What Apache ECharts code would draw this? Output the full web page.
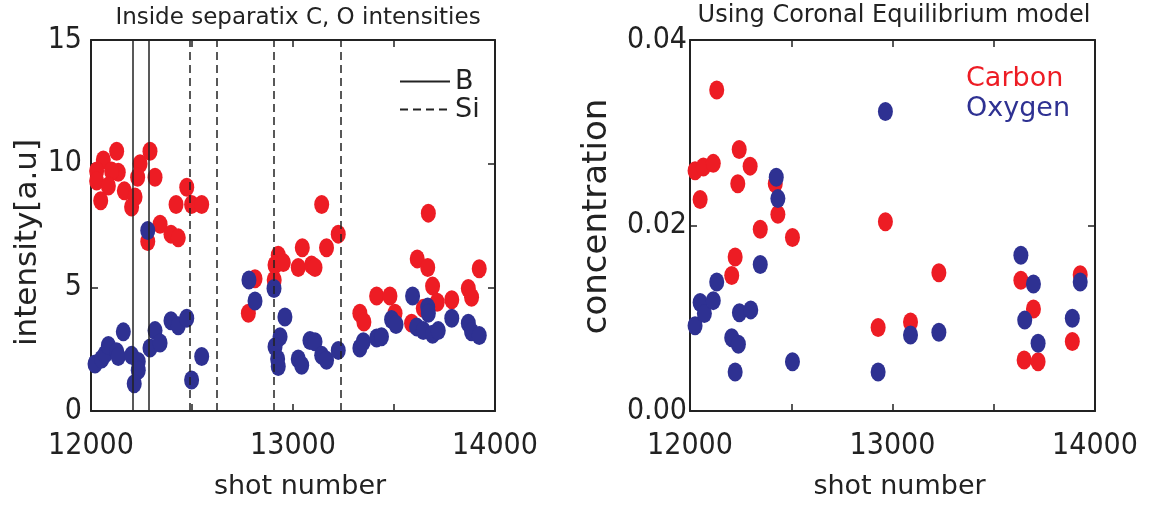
<!DOCTYPE html>
<html>
<head>
<meta charset="utf-8">
<title>C and O intensities / concentrations vs shot number</title>
<script src="https://cdn.jsdelivr.net/npm/echarts@6/dist/echarts.min.js"></script>
<style>
  html, body { margin: 0; padding: 0; background: #ffffff; }
  #chart { width: 1152px; height: 508px; }
</style>
</head>
<body>
<div id="chart"></div>
<script>
// ---- data -------------------------------------------------------------
// shot-number axis
const shotMin = 12000;
const shotMax = 14000;
const shotTickStep = 500;
const shotLabelStep = 1000;

// intensity axis (a.u.)
const intensityMin = 0;
const intensityMax = 15;
const intensityStep = 5;

// concentration axis
const concMin = 0;
const concMax = 0.04;
const concStep = 0.02;

// boronisation / siliconisation shots (vertical markers)
const boronShots = [12208, 12287];
const siliconShots = [12490, 12624, 12906, 13238];

// inside-separatrix line intensities, [shot, a.u.]
const carbonIntensity = [
  [12127, 10.5], [12061, 10.15], [12028, 9.7], [12028, 9.3], [12135, 9.65],
  [12102, 9.7], [12086, 9.1], [12048, 8.5], [12165, 8.9], [12218, 8.65],
  [12201, 8.25], [12243, 10.0], [12231, 9.45], [12292, 10.5], [12317, 9.45],
  [12474, 9.05], [12421, 8.35], [12498, 8.35], [12548, 8.35], [12342, 7.55],
  [12396, 7.15], [12432, 7.0], [12281, 6.85],
  [13142, 8.35], [13224, 7.15], [13046, 6.6], [13166, 6.6], [12927, 6.3],
  [12911, 5.9], [12952, 6.0], [13026, 5.8], [13092, 5.9], [13109, 5.8],
  [12812, 5.35], [12907, 5.3], [12779, 3.95],
  [13670, 8.0], [13331, 3.95], [13351, 3.6], [13414, 4.65], [13480, 4.65],
  [13505, 3.95], [13615, 6.15], [13667, 5.8], [13691, 5.05], [13714, 4.4],
  [13645, 4.15], [13587, 3.55], [13786, 4.5], [13868, 4.95], [13884, 4.6],
  [13922, 5.75]
];
const oxygenIntensity = [
  [12020, 1.9], [12053, 2.1], [12070, 2.3], [12086, 2.65], [12127, 2.4],
  [12135, 2.2], [12160, 3.2], [12201, 2.25], [12234, 2.0], [12234, 1.65],
  [12214, 1.1], [12292, 2.55], [12317, 3.25], [12342, 2.75], [12396, 3.65],
  [12432, 3.45], [12474, 3.75], [12498, 1.25], [12548, 2.2], [12281, 7.3],
  [12782, 5.3], [12906, 4.95], [12812, 4.45], [12960, 3.8], [12936, 3.0],
  [12911, 2.6], [12924, 2.1], [12927, 1.8], [13026, 2.1], [13043, 1.85],
  [13084, 2.85], [13109, 2.8], [13142, 2.25], [13166, 2.05], [13224, 2.45],
  [13331, 2.55], [13348, 2.8], [13414, 2.95], [13438, 3.0], [13488, 3.7],
  [13510, 3.5], [13592, 4.65], [13612, 3.4], [13645, 3.25], [13667, 4.2],
  [13670, 3.95], [13691, 3.1], [13719, 3.25], [13786, 3.75], [13868, 3.55],
  [13884, 3.2], [13922, 3.05]
];

// coronal-equilibrium concentrations, [shot, fraction]
const carbonConc = [
  [12132, 0.0346], [12025, 0.0259], [12066, 0.0263], [12115, 0.0267],
  [12050, 0.0228], [12243, 0.0282], [12297, 0.0264], [12236, 0.0245],
  [12421, 0.0245], [12434, 0.0212], [12347, 0.0196], [12506, 0.0187],
  [12223, 0.0166], [12206, 0.0146], [12929, 0.0090], [12965, 0.0204],
  [13229, 0.0149], [13089, 0.0096], [13634, 0.0141], [13696, 0.0110],
  [13650, 0.0055], [13719, 0.0053], [13927, 0.0147], [13888, 0.0075]
];
const oxygenConc = [
  [12025, 0.0092], [12050, 0.0117], [12071, 0.0105], [12115, 0.0119],
  [12132, 0.0139], [12347, 0.0158], [12244, 0.0106], [12300, 0.0109],
  [12206, 0.0079], [12239, 0.0072], [12223, 0.0042], [12506, 0.0053],
  [12426, 0.0252], [12434, 0.0229], [12965, 0.0323], [12929, 0.0042],
  [13089, 0.0082], [13229, 0.0085], [13634, 0.0168], [13696, 0.0137],
  [13653, 0.0098], [13719, 0.0073], [13888, 0.0100], [13927, 0.0139]
];

// ---- styling ----------------------------------------------------------
const INK = '#222222';
const RED = '#ed1c24';
const BLUE = '#2e3192';
const NUM_FONT = "'DejaVu Sans Condensed', 'Liberation Sans Narrow', 'Liberation Sans', sans-serif";
const TEXT_FONT = "'DejaVu Sans', 'Noto Sans', sans-serif";
const MARK = [15, 19];

const frameLine = { show: true, onZero: false, lineStyle: { color: INK, width: 2 } };
const innerTick = { show: true, inside: true, length: 7, lineStyle: { color: INK, width: 1.5 } };

function shotAxis(gridIndex, position, withLabels) {
  return {
    type: 'value', gridIndex, position,
    min: shotMin, max: shotMax, interval: shotTickStep,
    axisLine: frameLine, axisTick: innerTick, splitLine: { show: false },
    axisLabel: withLabels ? {
      show: true, margin: 20, color: INK, fontSize: 30, fontFamily: NUM_FONT,
      formatter: v => (v % shotLabelStep === 0 ? String(v) : '')
    } : { show: false },
    name: withLabels ? 'shot number' : '',
    nameLocation: 'middle', nameGap: 62,
    nameTextStyle: { color: INK, fontSize: 27, fontFamily: TEXT_FONT, padding: [0, 0, 0, 14] }
  };
}

function valueAxis(gridIndex, position, min, max, step, opts) {
  const ax = {
    type: 'value', gridIndex, position, min, max, interval: step,
    axisLine: frameLine, axisTick: innerTick, splitLine: { show: false },
    axisLabel: { show: false }
  };
  if (opts) {
    ax.axisLabel = {
      show: true, margin: opts.margin, color: INK, fontSize: 30, fontFamily: NUM_FONT,
      formatter: opts.formatter
    };
    ax.name = opts.name;
    ax.nameLocation = 'middle';
    ax.nameGap = opts.nameGap;
    ax.nameTextStyle = { color: INK, fontSize: opts.nameSize, fontFamily: TEXT_FONT, padding: opts.namePad };
  }
  return ax;
}

const option = {
  backgroundColor: '#ffffff',
  animation: false,
  title: [
    { text: 'Inside separatix C, O intensities', left: 293, top: 2, textAlign: 'center',
      textStyle: { color: INK, fontSize: 23, fontWeight: 'normal', fontFamily: TEXT_FONT } },
    { text: 'Using Coronal Equilibrium model', left: 889, top: -1, textAlign: 'center',
      textStyle: { color: INK, fontSize: 24, fontWeight: 'normal', fontFamily: TEXT_FONT } }
  ],
  grid: [
    { left: 91, top: 40, width: 404, height: 371 },
    { left: 690, top: 40, width: 405, height: 371 }
  ],
  legend: [
    { data: ['B', 'Si'], orient: 'vertical', left: 394, top: 63,
      itemWidth: 50, itemHeight: 14, itemGap: 1, selectedMode: false,
      itemStyle: { opacity: 0 },
      textStyle: { color: INK, fontSize: 27, lineHeight: 20, fontFamily: TEXT_FONT } },
    { data: [
        { name: 'Carbon', textStyle: { color: RED } },
        { name: 'Oxygen', textStyle: { color: BLUE } }
      ],
      orient: 'vertical', left: 956, top: 60, icon: 'circle',
      itemWidth: 0, itemHeight: 0, itemGap: 3, selectedMode: false,
      textStyle: { fontSize: 27, lineHeight: 22, fontFamily: TEXT_FONT } }
  ],
  xAxis: [
    shotAxis(0, 'bottom', true),
    shotAxis(0, 'top', false),
    shotAxis(1, 'bottom', true),
    shotAxis(1, 'top', false)
  ],
  yAxis: [
    valueAxis(0, 'left', intensityMin, intensityMax, intensityStep, {
      margin: 9, formatter: v => String(v), name: 'intensity[a.u]', nameGap: 48, nameSize: 31,
      namePad: [0, 34, 0, 0] }),
    valueAxis(0, 'right', intensityMin, intensityMax, intensityStep),
    valueAxis(1, 'left', concMin, concMax, concStep, {
      margin: 3, formatter: v => v.toFixed(2), name: 'concentration', nameGap: 76, nameSize: 34,
      namePad: [0, 0, 0, 18] }),
    valueAxis(1, 'right', concMin, concMax, concStep)
  ],
  series: [
    { name: 'B', type: 'line', xAxisIndex: 0, yAxisIndex: 0, data: [], symbol: 'none',
      itemStyle: { color: INK },
      lineStyle: { color: INK, width: 1.5, type: 'solid' },
      markLine: { silent: true, symbol: ['none', 'none'], label: { show: false },
        lineStyle: { color: INK, width: 1.5, type: 'solid' },
        data: boronShots.map(s => ({ xAxis: s })) } },
    { name: 'Si', type: 'line', xAxisIndex: 0, yAxisIndex: 0, data: [], symbol: 'none',
      itemStyle: { color: INK },
      lineStyle: { color: INK, width: 1.5, type: [8, 5] },
      markLine: { silent: true, symbol: ['none', 'none'], label: { show: false },
        lineStyle: { color: INK, width: 1.5, type: [8, 5] },
        data: siliconShots.map(s => ({ xAxis: s })) } },
    { name: 'Carbon', type: 'scatter', xAxisIndex: 0, yAxisIndex: 0,
      symbol: 'circle', symbolSize: MARK, itemStyle: { color: RED, opacity: 1 }, data: carbonIntensity },
    { name: 'Oxygen', type: 'scatter', xAxisIndex: 0, yAxisIndex: 0,
      symbol: 'circle', symbolSize: MARK, itemStyle: { color: BLUE, opacity: 1 }, data: oxygenIntensity },
    { name: 'Carbon', type: 'scatter', xAxisIndex: 2, yAxisIndex: 2,
      symbol: 'circle', symbolSize: MARK, itemStyle: { color: RED, opacity: 1 }, data: carbonConc },
    { name: 'Oxygen', type: 'scatter', xAxisIndex: 2, yAxisIndex: 2,
      symbol: 'circle', symbolSize: MARK, itemStyle: { color: BLUE, opacity: 1 }, data: oxygenConc }
  ]
};

const chart = echarts.init(document.getElementById('chart'), null, { renderer: 'canvas' });
chart.setOption(option);
</script>
</body>
</html>
